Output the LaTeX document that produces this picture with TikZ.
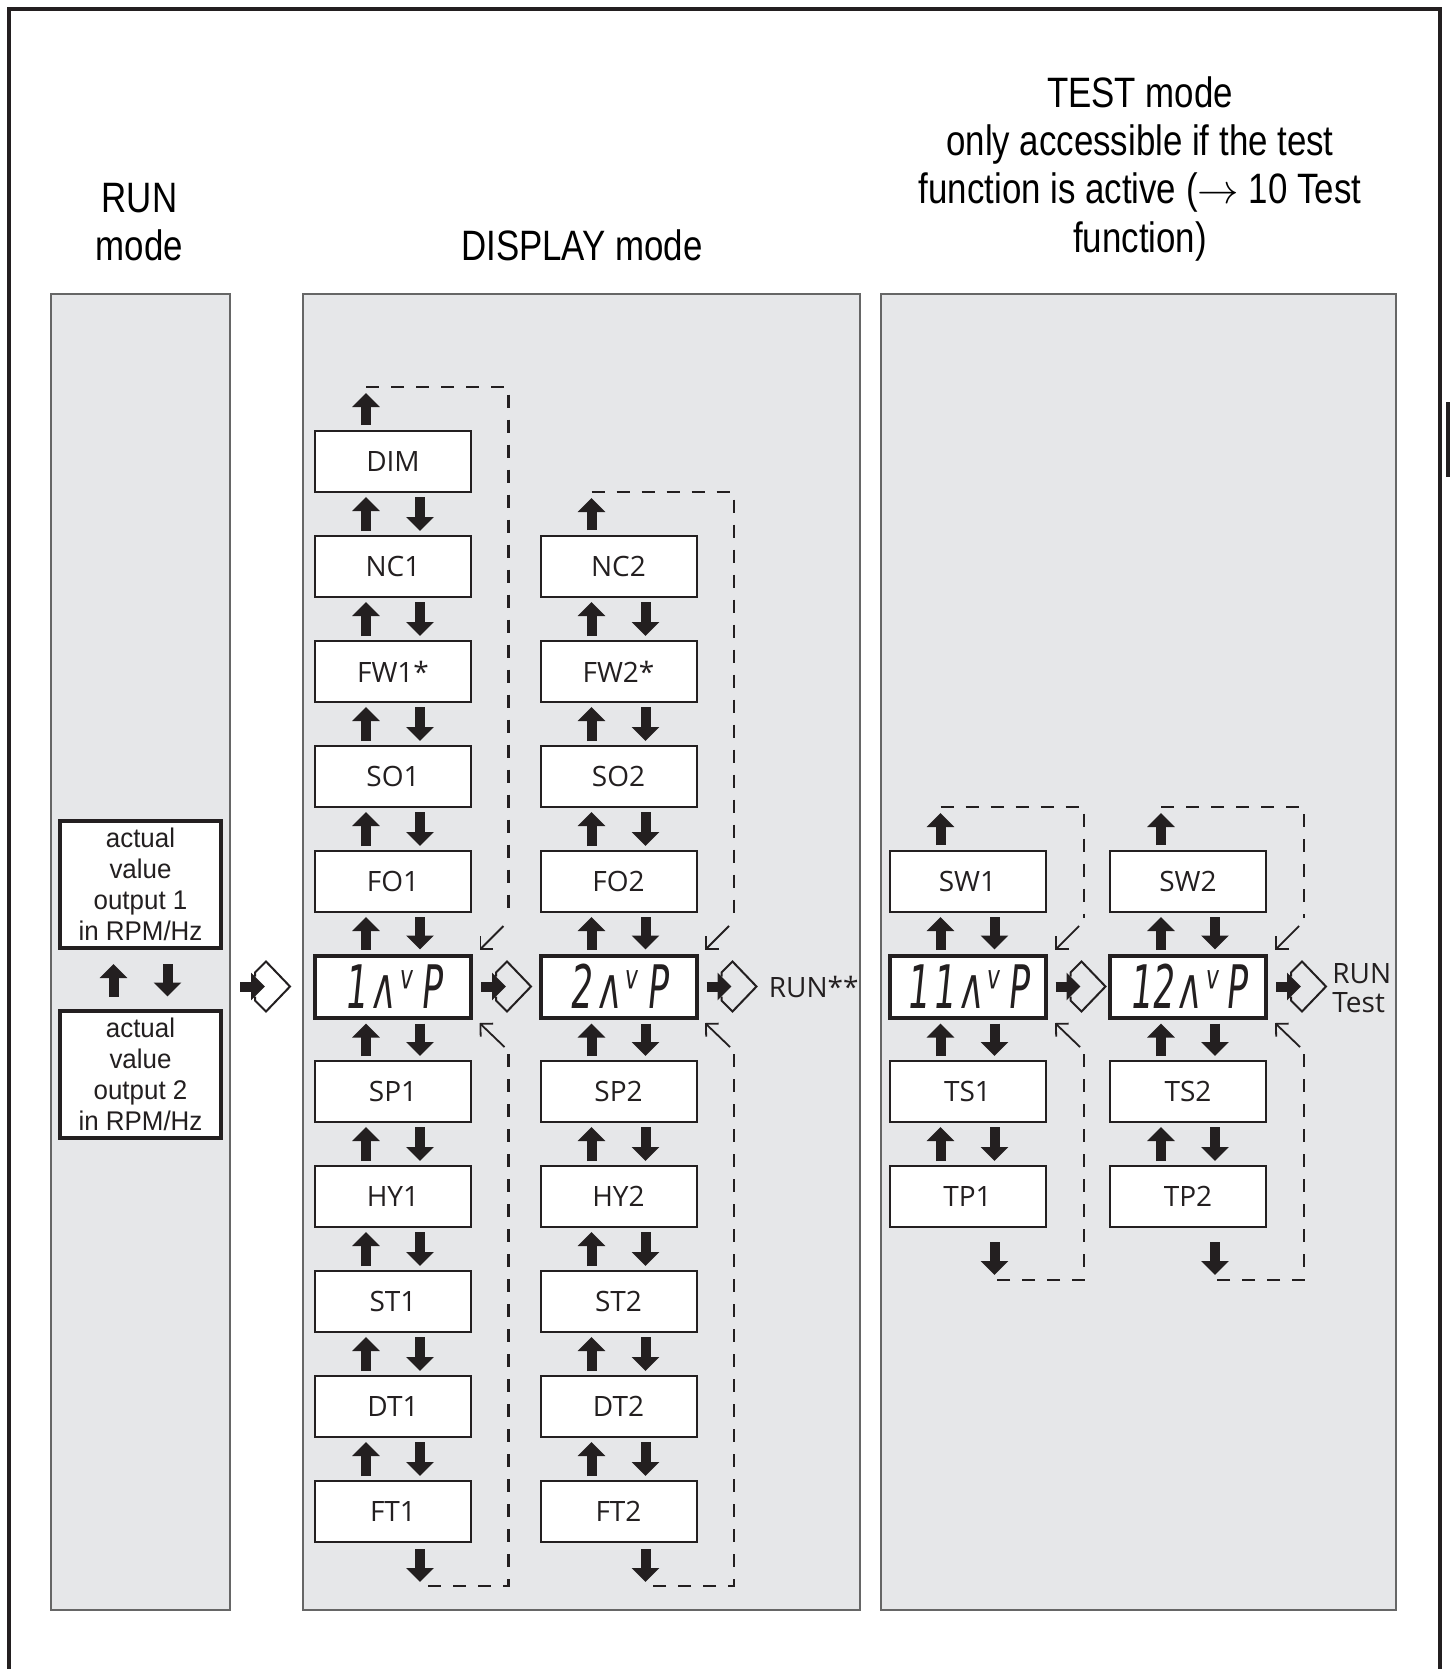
\documentclass[tikz,border=0pt]{standalone}
\usepackage{fontspec}
\setmainfont{Open Sans}
\newfontfamily\headfont{Liberation Sans}[FakeStretch=0.82]
\newfontfamily\runfont{Liberation Sans}[FakeStretch=0.96]
\newfontfamily\segfont{DejaVu Sans}[FakeStretch=0.58,FakeSlant=0.1]
\usetikzlibrary{arrows.meta,calc}
\definecolor{panelgray}{RGB}{230,231,233}
\definecolor{ink}{RGB}{35,31,32}
\begin{document}
\begin{tikzpicture}[x=0.5pt,y=-0.5pt,
  panel/.style={fill=panelgray,draw=black!60,line width=0.6pt},
  head/.style={font=\headfont\fontsize{21.25}{24}\selectfont,inner sep=0pt,anchor=base},
  menubox/.style={draw=ink,line width=1pt,fill=white,minimum width=78pt,minimum height=30.5pt,inner sep=0pt,font=\fontsize{14}{16}\selectfont,text=ink},
  dispbox/.style={draw=ink,line width=2pt,fill=white,minimum width=78pt,minimum height=31pt,inner sep=0pt,font=\segfont\fontsize{30}{30}\selectfont,text=ink},
  runbox/.style={draw=ink,line width=2pt,fill=white,minimum width=80.5pt,minimum height=63.5pt,inner sep=0pt,align=center,font=\runfont\fontsize{13.5}{15.5}\selectfont,text=ink},
  blk/.style={line width=5pt,draw=ink,-{Triangle[width=13.5pt,length=7pt]}},
  loopline/.style={draw=ink,dash pattern=on 6.5pt off 6pt,line width=1.1pt},
  diag/.style={draw=ink,line width=0.9pt,-{Straight Barb[length=4.5pt,width=9pt]}},
  lbl/.style={font=\fontsize{14}{14.5}\selectfont,text=ink,inner sep=0pt},
  enter/.pic={
    \draw[blk] (0,0) -- (25,0);
    \draw[ink,line width=1pt,line join=miter] (15,-10) -- (15,-14) -- (26,-25) -- (50,0) -- (26,25) -- (15,14) -- (15,10);
  }
]
\useasboundingbox (0,0) rectangle (1450,1669);
% outer frame
\draw[ink,line width=2pt] (8.5,1669) -- (8.5,9.5) -- (1440,9.5) -- (1440,1669);
\fill[ink] (1446,402) rectangle (1450,477);
% panels
\draw[panel] (51,294) rectangle (230,1610);
\draw[panel] (303,294) rectangle (860,1610);
\draw[panel] (881,294) rectangle (1396,1610);
% headings
\node[head] (hrun1) at (139.5,213) {RUN};
\node[head] (hrun2) at (139.5,261) {mode};
\node[head] (hdisp) at (582,260) {DISPLAY mode};
\node[head] (htest1) at (1140,108) {TEST mode};
\node[head] (htest2) at (1140,156) {only accessible if the test};
\node[head] (htest3) at (1140,204) {function is active (\ensuremath{\rightarrow} 10 Test};
\node[head] (htest4) at (1140,252) {function)};
% RUN mode
\node[runbox] (act1) at (140.5,884.5) {actual\\value\\output 1\\in RPM/Hz};
\node[runbox] (act2) at (140.5,1074) {actual\\value\\output 2\\in RPM/Hz};
\draw[blk] ($(act2.north)+(-27,-12)$) -- ($(act1.south)+(-27,14)$);
\draw[blk] ($(act1.south)+(27,14)$) -- ($(act2.north)+(27,-12)$);
\pic at (240,986.5) {enter};
% DISPLAY column 1
\node[menubox] (dim) at (393,461.5) {DIM};
\node[menubox] (nc1) at (393,566.5) {NC1};
\node[menubox] (fw1) at (393,671.5) {FW1*};
\node[menubox] (so1) at (393,776.5) {SO1};
\node[menubox] (fo1) at (393,881.5) {FO1};
\node[dispbox] (d1) at (393,986.5) {1\kern3pt ʌ\kern2pt ᵛ\kern4.5pt P};
\node[menubox] (sp1) at (393,1091.5) {SP1};
\node[menubox] (hy1) at (393,1196.5) {HY1};
\node[menubox] (st1) at (393,1301.5) {ST1};
\node[menubox] (dt1) at (393,1406.5) {DT1};
\node[menubox] (ft1) at (393,1511.5) {FT1};
% DISPLAY column 2
\node[menubox] (nc2) at (618.5,566.5) {NC2};
\node[menubox] (fw2) at (618.5,671.5) {FW2*};
\node[menubox] (so2) at (618.5,776.5) {SO2};
\node[menubox] (fo2) at (618.5,881.5) {FO2};
\node[dispbox] (d2) at (618.5,986.5) {2\kern3pt ʌ\kern2pt ᵛ\kern4.5pt P};
\node[menubox] (sp2) at (618.5,1091.5) {SP2};
\node[menubox] (hy2) at (618.5,1196.5) {HY2};
\node[menubox] (st2) at (618.5,1301.5) {ST2};
\node[menubox] (dt2) at (618.5,1406.5) {DT2};
\node[menubox] (ft2) at (618.5,1511.5) {FT2};
% TEST columns
\node[menubox] (sw1) at (967.5,881.5) {SW1};
\node[dispbox] (d11) at (967.5,986.5) {1\kern2pt 1\kern2.5pt ʌ\kern2pt ᵛ\kern4pt P};
\node[menubox] (ts1) at (967.5,1091.5) {TS1};
\node[menubox] (tp1) at (967.5,1196.5) {TP1};
\node[menubox] (sw2) at (1188,881.5) {SW2};
\node[dispbox] (d12) at (1188,986.5) {12\kern2.5pt ʌ\kern2pt ᵛ\kern4pt P};
\node[menubox] (ts2) at (1188,1091.5) {TS2};
\node[menubox] (tp2) at (1188,1196.5) {TP2};
% vertical arrow pairs
\foreach \a/\b in {dim/nc1,nc1/fw1,fw1/so1,so1/fo1,fo1/d1,d1/sp1,sp1/hy1,hy1/st1,st1/dt1,dt1/ft1,
  nc2/fw2,fw2/so2,so2/fo2,fo2/d2,d2/sp2,sp2/hy2,hy2/st2,st2/dt2,dt2/ft2,
  sw1/d11,d11/ts1,ts1/tp1,sw2/d12,d12/ts2,ts2/tp2}{
  \draw[blk] ($(\b.north)+(-27,-4)$) -- ($(\a.south)+(-27,4)$);
  \draw[blk] ($(\a.south)+(27,4)$) -- ($(\b.north)+(27,-4)$);
}
% enter symbols
\pic at ($(d1.east)+(8,0)$) {enter};
\pic at ($(d2.east)+(8,0)$) {enter};
\pic at ($(d11.east)+(8,0)$) {enter};
\pic at ($(d12.east)+(8,0)$) {enter};
\node[lbl,anchor=west] (runx) at ($(d2.east)+(70,0)$) {RUN**};
\node[lbl,anchor=west,align=left] (runtest) at ($(d12.east)+(64,2)$) {RUN\\Test};
% loops: column 1
\draw[blk] ($(dim.north)+(-27,-5)$) -- ($(dim.north)+(-27,-37)$);
\coordinate (c1top) at ($(dim.north)+(-27,-43)$);
\coordinate (c1r1) at (508.5,918);
\draw[loopline] (c1top) -| (c1r1);
\draw[diag] (503.5,926) -- (479.5,950);
\draw[diag] (504.5,1047) -- (479.5,1023);
\draw[blk] ($(ft1.south)+(27,6)$) -- ($(ft1.south)+(27,39)$);
\coordinate (c1r2) at (508.5,1054);
\coordinate (c1bot) at ($(ft1.south)+(27,43)$);
\draw[loopline] (c1r2) |- (c1bot);
% loops: column 2
\draw[blk] ($(nc2.north)+(-27,-5)$) -- ($(nc2.north)+(-27,-37)$);
\coordinate (c2top) at ($(nc2.north)+(-27,-43)$);
\coordinate (c2r1) at (734,918);
\draw[loopline] (c2top) -| (c2r1);
\draw[diag] (729,926) -- (705,950);
\draw[diag] (730,1047) -- (705,1023);
\draw[blk] ($(ft2.south)+(27,6)$) -- ($(ft2.south)+(27,39)$);
\coordinate (c2r2) at (734,1054);
\coordinate (c2bot) at ($(ft2.south)+(27,43)$);
\draw[loopline] (c2r2) |- (c2bot);
% loops: test column 1
\draw[blk] ($(sw1.north)+(-27,-5)$) -- ($(sw1.north)+(-27,-37)$);
\coordinate (t1top) at ($(sw1.north)+(-27,-43)$);
\coordinate (t1r1) at (1084,918);
\draw[loopline] (t1top) -| (t1r1);
\draw[diag] (1079,926) -- (1055,950);
\draw[diag] (1080,1047) -- (1055,1023);
\draw[blk] ($(tp1.south)+(27,14)$) -- ($(tp1.south)+(27,47)$);
\coordinate (t1r2) at (1084,1054);
\coordinate (t1bot) at ($(tp1.south)+(27,52)$);
\draw[loopline] (t1r2) |- (t1bot);
% loops: test column 2
\draw[blk] ($(sw2.north)+(-27,-5)$) -- ($(sw2.north)+(-27,-37)$);
\coordinate (t2top) at ($(sw2.north)+(-27,-43)$);
\coordinate (t2r1) at (1304,918);
\draw[loopline] (t2top) -| (t2r1);
\draw[diag] (1299,926) -- (1275,950);
\draw[diag] (1300,1047) -- (1275,1023);
\draw[blk] ($(tp2.south)+(27,14)$) -- ($(tp2.south)+(27,47)$);
\coordinate (t2r2) at (1304,1054);
\coordinate (t2bot) at ($(tp2.south)+(27,52)$);
\draw[loopline] (t2r2) |- (t2bot);
\end{tikzpicture}
\end{document}
